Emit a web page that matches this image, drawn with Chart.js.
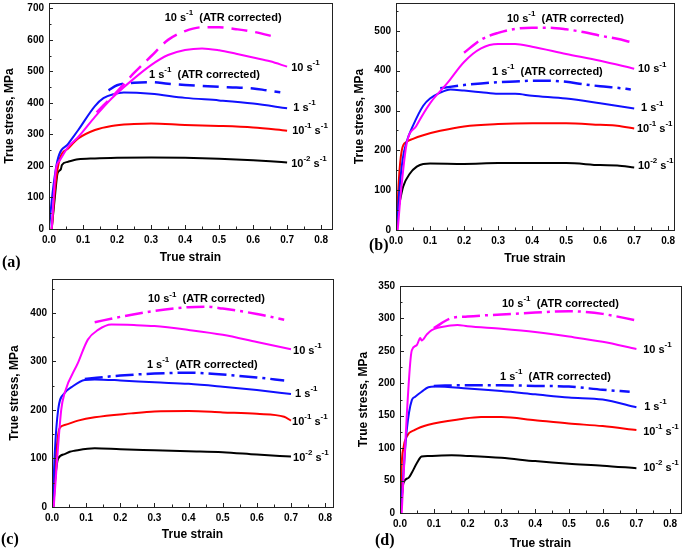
<!DOCTYPE html>
<html>
<head>
<meta charset="utf-8">
<script src="https://cdn.jsdelivr.net/npm/chart.js@4"></script>
<style>
  body { margin: 0; background: #fff; }
  #wrap { position: relative; width: 685px; height: 549px; overflow: hidden; background: #fff; }
  #wrap canvas { position: absolute; }
  .tag { position: absolute; font: bold 16px 'Liberation Serif', 'Times New Roman', serif; color: #000; }
</style>
</head>
<body>
<div id="wrap">
  <canvas id="cA"></canvas>
  <canvas id="cB"></canvas>
  <canvas id="cC"></canvas>
  <canvas id="cD"></canvas>
  <div class="tag" style="left:2px;top:253px">(a)</div>
  <div class="tag" style="left:369px;top:236px">(b)</div>
  <div class="tag" style="left:1px;top:530px">(c)</div>
  <div class="tag" style="left:375px;top:531px">(d)</div>
</div>
<script>
// tick values
const xTicks = [0, 0.1, 0.2, 0.3, 0.4, 0.5, 0.6, 0.7, 0.8];
const aYTicks = [0, 100, 200, 300, 400, 500, 600, 700];
const bYTicks = [0, 100, 200, 300, 400, 500];
const cYTicks = [0, 100, 200, 300, 400];
const dYTicks = [0, 50, 100, 150, 200, 250, 300, 350];

// curve labels (text parts, '^' = superscript)
const noteText = [
  ['10 s', '^-1', '  (ATR corrected)'],
  ['1 s', '^-1', '  (ATR corrected)'],
  ['10 s', '^-1'],
  ['1 s', '^-1'],
  ['10', '^-1', ' s', '^-1'],
  ['10', '^-2', ' s', '^-1']
];

// ---- (a) ----
const aX_m2 = [0.008, 0.018, 0.025, 0.032, 0.035, 0.038, 0.055, 0.086, 0.135, 0.2, 0.3, 0.4, 0.5, 0.6, 0.65, 0.7];
const aY_m2 = [0, 110, 176, 186, 190, 203, 213, 221, 224, 226, 227, 226, 223, 218, 215, 211];
const aX_m1 = [0.008, 0.02, 0.032, 0.057, 0.086, 0.135, 0.184, 0.25, 0.3, 0.4, 0.5, 0.6, 0.7];
const aY_m1 = [0, 150, 224, 256, 287, 314, 327, 333, 335, 330, 327, 322, 312];
const aX_r1 = [0, 0.01, 0.025, 0.057, 0.086, 0.135, 0.16, 0.19, 0.22, 0.3, 0.4, 0.5, 0.6, 0.7];
const aY_r1 = [0, 110, 218, 271, 314, 390, 415, 428, 433, 429, 416, 408, 398, 383];
const aX_r1c = [0.175, 0.2, 0.25, 0.3, 0.35, 0.4, 0.45, 0.5, 0.55, 0.6, 0.64, 0.68];
const aY_r1c = [440, 456, 464, 466, 461, 457, 454, 451, 449, 446, 440, 434];
const aX_r10 = [0.008, 0.02, 0.032, 0.057, 0.086, 0.135, 0.184, 0.233, 0.3, 0.35, 0.4, 0.45, 0.5, 0.55, 0.6, 0.65, 0.7];
const aY_r10 = [0, 187, 218, 261, 292, 356, 414, 462, 520, 552, 568, 573, 567, 556, 544, 532, 515];
const aX_r10c = [0.14, 0.2, 0.25, 0.3, 0.35, 0.4, 0.45, 0.5, 0.55, 0.6, 0.67];
const aY_r10c = [370, 436, 495, 548, 600, 628, 640, 640, 634, 626, 608];
const aNoteX = [0.34, 0.294, 0.712, 0.718, 0.715, 0.712];
const aNoteY = [672, 492, 514, 387, 314, 210];

// ---- (b) ----
const bX_m2 = [0.002, 0.006, 0.012, 0.021, 0.041, 0.061, 0.08, 0.1, 0.2, 0.3, 0.4, 0.5, 0.6, 0.65, 0.7];
const bY_m2 = [0, 45, 75, 109, 142, 159, 166, 167, 166, 168, 168, 168, 163, 162, 157];
const bX_m1 = [0.002, 0.008, 0.017, 0.031, 0.05, 0.08, 0.13, 0.2, 0.3, 0.4, 0.5, 0.6, 0.65, 0.7];
const bY_m1 = [0, 120, 200, 221, 229, 238, 249, 260, 266, 268, 268, 264, 262, 255];
const bX_r1 = [0.002, 0.01, 0.02, 0.031, 0.05, 0.08, 0.1, 0.13, 0.16, 0.2, 0.25, 0.3, 0.35, 0.4, 0.5, 0.6, 0.7];
const bY_r1 = [0, 100, 180, 221, 262, 312, 330, 345, 353, 350, 346, 342, 342, 337, 330, 318, 305];
const bX_r1c = [0.13, 0.2, 0.25, 0.3, 0.35, 0.4, 0.45, 0.5, 0.55, 0.6, 0.65, 0.69];
const bY_r1c = [356, 364, 368, 371, 373, 375, 375, 372, 366, 361, 357, 353];
const bX_r10 = [0.005, 0.015, 0.031, 0.06, 0.1, 0.15, 0.2, 0.25, 0.3, 0.35, 0.4, 0.5, 0.6, 0.7];
const bY_r10 = [0, 100, 215, 262, 318, 368, 422, 456, 467, 467, 460, 442, 425, 405];
const bX_r10c = [0.2, 0.25, 0.3, 0.35, 0.4, 0.45, 0.5, 0.55, 0.6, 0.65, 0.69];
const bY_r10c = [445, 478, 495, 505, 508, 508, 504, 497, 488, 480, 472];
const bNoteX = [0.326, 0.282, 0.711, 0.72, 0.708, 0.711];
const bNoteY = [532, 399, 406, 308, 256, 163];

// ---- (c) ----
const cX_m2 = [0.004, 0.01, 0.018, 0.037, 0.052, 0.066, 0.125, 0.2, 0.3, 0.4, 0.5, 0.6, 0.7];
const cY_m2 = [0, 62, 100, 109, 114, 116, 121, 119, 117, 115, 113, 108, 104];
const cX_m1 = [0.003, 0.01, 0.022, 0.037, 0.076, 0.125, 0.232, 0.3, 0.4, 0.5, 0.6, 0.68, 0.7];
const cY_m1 = [0, 90, 162, 169, 178, 185, 193, 197, 198, 195, 192, 186, 178];
const cX_r1 = [0.002, 0.008, 0.018, 0.037, 0.057, 0.096, 0.125, 0.2, 0.3, 0.4, 0.5, 0.6, 0.7];
const cY_r1 = [0, 110, 200, 235, 247, 262, 263, 261, 257, 254, 248, 241, 233];
const cX_r1c = [0.096, 0.2, 0.3, 0.4, 0.5, 0.6, 0.68];
const cY_r1c = [264, 271, 275, 277, 273, 267, 261];
const cX_r10 = [0.005, 0.027, 0.037, 0.076, 0.105, 0.135, 0.174, 0.24, 0.3, 0.4, 0.5, 0.6, 0.7];
const cY_r10 = [0, 200, 235, 297, 345, 365, 376, 375, 373, 365, 355, 340, 325];
const cX_r10c = [0.125, 0.2, 0.3, 0.4, 0.45, 0.5, 0.6, 0.68];
const cY_r10c = [381, 392, 404, 412, 413, 409, 398, 386];
const cNoteX = [0.281, 0.278, 0.706, 0.712, 0.703, 0.706];
const cNoteY = [430, 295, 324, 235, 177, 103];

// ---- (d) ----
const dX_m2 = [0.002, 0.01, 0.025, 0.035, 0.05, 0.064, 0.084, 0.153, 0.2, 0.3, 0.4, 0.5, 0.6, 0.7];
const dY_m2 = [0, 46, 54, 62, 77, 87, 88, 89, 88, 85, 80, 76, 73, 69];
const dX_m1 = [0.001, 0.005, 0.01, 0.02, 0.044, 0.084, 0.183, 0.24, 0.3, 0.4, 0.5, 0.6, 0.7];
const dY_m1 = [0, 75, 100, 118, 128, 136, 145, 148, 148, 143, 138, 134, 128];
const dX_r1 = [0.002, 0.01, 0.02, 0.035, 0.044, 0.064, 0.084, 0.104, 0.2, 0.3, 0.4, 0.5, 0.6, 0.7];
const dY_r1 = [0, 60, 128, 174, 179, 187, 194, 195, 192, 188, 183, 178, 175, 163];
const dX_r1c = [0.1, 0.2, 0.3, 0.4, 0.5, 0.6, 0.68];
const dY_r1c = [196, 197, 197, 196, 195, 190, 187];
const dX_r10 = [0.005, 0.02, 0.03, 0.035, 0.05, 0.06, 0.064, 0.079, 0.094, 0.15, 0.17, 0.2, 0.3, 0.4, 0.5, 0.6, 0.7];
const dY_r10 = [0, 150, 230, 251, 259, 270, 266, 275, 282, 289, 290, 288, 284, 279, 272, 264, 253];
const dX_r10c = [0.1, 0.15, 0.2, 0.3, 0.4, 0.5, 0.55, 0.6, 0.7];
const dY_r10c = [285, 300, 303, 306, 309, 311, 310, 307, 297];
const dNoteX = [0.302, 0.296, 0.72, 0.723, 0.72, 0.72];
const dNoteY = [324, 211, 253, 165, 127, 71];

const FONT = "'Liberation Sans', Arial, sans-serif";
const BLACK = '#000000', RED = '#ff0000', BLUE = '#1010ff', MAGENTA = '#ff00ff';

function line(xs, ys, color, dash, w) {
    return {
        data: xs.map((x, i) => ({ x: x, y: ys[i] })),
        borderColor: color,
        borderWidth: w || 2,
        borderDash: dash || [],
        pointRadius: 0,
        fill: false,
        cubicInterpolationMode: 'monotone'
    };
}

// box round the plot + inward ticks
const framePlugin = {
    id: 'frame',
    afterDraw(chart, args, opts) {
        const { ctx, chartArea: a, scales } = chart;
        ctx.save();
        ctx.strokeStyle = '#222';
        ctx.lineWidth = 1;
        ctx.strokeRect(a.left + 0.5, a.top + 0.5, a.right - a.left, a.bottom - a.top);
        ctx.beginPath();
        for (let i = 0; i <= 16; i++) {
            const v = i * 0.05;
            const px = Math.round(scales.x.getPixelForValue(v)) + 0.5;
            const len = i % 2 === 0 ? 4 : 2.5;
            ctx.moveTo(px, a.bottom);
            ctx.lineTo(px, a.bottom - len);
        }
        for (let i = 0; i * opts.yMinor <= scales.y.max; i++) {
            const v = i * opts.yMinor;
            const py = Math.round(scales.y.getPixelForValue(v)) + 0.5;
            const len = i % 2 === 0 ? 4 : 2.5;
            ctx.moveTo(a.left, py);
            ctx.lineTo(a.left + len, py);
        }
        ctx.stroke();
        ctx.restore();
    }
};

// curve labels with superscripts
const notesPlugin = {
    id: 'notes',
    afterDatasetsDraw(chart, args, opts) {
        const { ctx, scales } = chart;
        ctx.save();
        ctx.fillStyle = '#000';
        ctx.textBaseline = 'middle';
        ctx.textAlign = 'left';
        opts.xs.forEach((xv, i) => {
            let px = scales.x.getPixelForValue(xv);
            const py = scales.y.getPixelForValue(opts.ys[i]) + 1;
            noteText[i].forEach(part => {
                if (part[0] === '^') {
                    ctx.font = 'bold 8px ' + FONT;
                    const t = part.slice(1);
                    ctx.fillText(t, px, py - 5);
                    px += ctx.measureText(t).width;
                } else {
                    ctx.font = 'bold 11px ' + FONT;
                    ctx.fillText(part, px, py);
                    px += ctx.measureText(part).width;
                }
            });
        });
        ctx.restore();
    }
};

function makePanel(id, box, area, yTitleX, xTitleY, xMax, yMax, yTicks, yMinor, sets, noteX, noteY) {
    const cv = document.getElementById(id);
    cv.width = box.w;
    cv.height = box.h;
    cv.style.left = box.x + 'px';
    cv.style.top = box.y + 'px';
    const half = 7.2; // title line height / 2
    const padL = yTitleX - box.x - half;
    const yW = area.l - box.x - padL;
    const xH = xTitleY + half - area.b;
    const tickFont = { family: FONT, size: 10, weight: 'bold' };
    const titleFont = { family: FONT, size: 12, weight: 'bold' };
    return new Chart(cv, {
        type: 'line',
        data: { datasets: sets },
        options: {
            responsive: false,
            animation: false,
            layout: {
                padding: {
                    left: padL,
                    top: area.t - box.y,
                    right: box.x + box.w - area.r,
                    bottom: box.y + box.h - area.b - xH
                }
            },
            plugins: {
                legend: { display: false },
                tooltip: { enabled: false },
                frame: { yMinor: yMinor },
                notes: { xs: noteX, ys: noteY }
            },
            scales: {
                x: {
                    type: 'linear', min: 0, max: xMax,
                    grid: { display: false, drawTicks: false }, border: { display: false },
                    afterBuildTicks: s => { s.ticks = xTicks.map(v => ({ value: v })); },
                    afterFit: s => { s.height = xH; s.paddingLeft = 0; s.paddingRight = 0; },
                    ticks: { font: tickFont, color: '#000', padding: 5, maxRotation: 0, autoSkip: false,
                        callback: v => v.toFixed(1) },
                    title: { display: true, text: 'True strain', font: titleFont, color: '#000', padding: 0 }
                },
                y: {
                    type: 'linear', min: 0, max: yMax,
                    grid: { display: false, drawTicks: false }, border: { display: false },
                    afterBuildTicks: s => { s.ticks = yTicks.map(v => ({ value: v })); },
                    afterFit: s => { s.width = yW; s.paddingTop = 0; s.paddingBottom = 0; },
                    ticks: { font: tickFont, color: '#000', padding: 5, autoSkip: false },
                    title: { display: true, text: 'True stress, MPa', font: titleFont, color: '#000', padding: 0 }
                }
            }
        },
        plugins: [framePlugin, notesPlugin]
    });
}

const DASH = [16, 8];
const DASHDOT = [18, 5, 3, 5];

makePanel('cA', { x: 0, y: 0, w: 342, h: 272 }, { l: 49, t: 3, r: 332, b: 229 }, 10, 258, 0.832, 717, aYTicks, 50, [
    line(aX_r10c, aY_r10c, MAGENTA, DASH, 2.5),
    line(aX_r10, aY_r10, MAGENTA),
    line(aX_r1c, aY_r1c, BLUE, DASH, 2.5),
    line(aX_r1, aY_r1, BLUE),
    line(aX_m1, aY_m1, RED),
    line(aX_m2, aY_m2, BLACK)
], aNoteX, aNoteY);

makePanel('cB', { x: 342, y: 0, w: 343, h: 272 }, { l: 396, t: 3, r: 674, b: 230 }, 360, 259, 0.817, 570, bYTicks, 50, [
    line(bX_r10c, bY_r10c, MAGENTA, DASHDOT, 2.5),
    line(bX_r10, bY_r10, MAGENTA),
    line(bX_r1c, bY_r1c, BLUE, DASHDOT, 2.5),
    line(bX_r1, bY_r1, BLUE),
    line(bX_m1, bY_m1, RED),
    line(bX_m2, bY_m2, BLACK)
], bNoteX, bNoteY);

makePanel('cC', { x: 0, y: 272, w: 342, h: 280 }, { l: 52, t: 279, r: 333, b: 507 }, 15, 535, 0.823, 470, cYTicks, 50, [
    line(cX_r10c, cY_r10c, MAGENTA, DASHDOT, 2.5),
    line(cX_r10, cY_r10, MAGENTA),
    line(cX_r1c, cY_r1c, BLUE, DASHDOT, 2.5),
    line(cX_r1, cY_r1, BLUE),
    line(cX_m1, cY_m1, RED),
    line(cX_m2, cY_m2, BLACK)
], cNoteX, cNoteY);

makePanel('cD', { x: 342, y: 272, w: 343, h: 280 }, { l: 400, t: 286, r: 681, b: 513 }, 364, 544, 0.832, 350, dYTicks, 25, [
    line(dX_r10c, dY_r10c, MAGENTA, DASHDOT, 2.5),
    line(dX_r10, dY_r10, MAGENTA),
    line(dX_r1c, dY_r1c, BLUE, DASHDOT, 2.5),
    line(dX_r1, dY_r1, BLUE),
    line(dX_m1, dY_m1, RED),
    line(dX_m2, dY_m2, BLACK)
], dNoteX, dNoteY);
</script>
</body>
</html>
